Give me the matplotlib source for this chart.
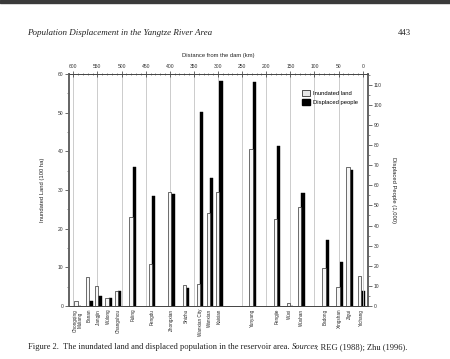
import numpy as np
import matplotlib
matplotlib.use('Agg')
import matplotlib.pyplot as plt
import matplotlib.transforms as mtransforms
from matplotlib.patches import Rectangle

# towns along the river, distance from the dam (km)
towns = ['Chongqing\nMuliang', 'Banan', 'Jiangjin', 'Wulong', 'Changshou', 'Fuling',
         'Fengdu', 'Zhongxian', 'Shizhu', 'Wanxian City', 'Wanxian', 'Kaixian',
         'Yunyang', 'Fengjie', 'Wuxi', 'Wushan', 'Badong', 'Xingshan', 'Zigui', 'Yichang']
dist = [591, 567, 548, 527, 507, 477, 437, 397, 366, 337, 317, 297,
        228, 178, 151, 127, 77, 48, 27, 3]
land = [1.2, 7.4, 5.2, 2.1, 3.9, 23.1, 10.8, 29.6, 5.4, 5.8, 24.0, 29.4,
        40.6, 22.4, 0.9, 25.5, 9.8, 4.9, 36.0, 7.8]            # 100 ha
people = [0, 2.5, 5.0, 3.8, 7.6, 69.0, 54.9, 55.7, 9.0, 96.4, 63.8, 111.6,
          111.3, 79.3, 0, 56.1, 32.8, 21.7, 67.4, 7.3]          # 1,000
km_ticks = np.arange(600, -1, -50)

W, H = 450, 359
fig = plt.figure(figsize=(W/100, H/100), dpi=100)
serif = ['Liberation Serif', 'DejaVu Serif']
narrow = ['Liberation Sans Narrow', 'Liberation Sans', 'DejaVu Sans']

# dark band at the top of the scan
fig.patches.append(Rectangle((0, 1 - 3/H), 1, 3/H, transform=fig.transFigure,
                             color='#3a3a3a', zorder=0))

fig.text(27/W, 1 - 33/H, 'Population Displacement in the Yangtze River Area',
         family=serif, style='italic', fontsize=6.45, va='center', color='#222')
fig.text(411/W, 1 - 33/H, '443', family=serif, fontsize=6.3, va='center',
         ha='right', color='#222')

ax = fig.add_axes([69/W, 1 - 306/H, (368-69)/W, (306-74)/H])
ax2 = ax.twinx()

bw = 6.8
ax.bar(np.array(dist) + bw/2, land, width=bw, color='#f6f6f6',
       edgecolor='#333', linewidth=0.5, zorder=3)
ax2.bar(np.array(dist) - bw/2, people, width=bw, color='black',
        edgecolor='black', linewidth=0.3, zorder=3)

ax.set_xlim(609, -11)
ax.set_ylim(0, 60)
ax2.set_ylim(0, 115.3)

for k in km_ticks:
    ax.axvline(k, color='#c4c4c4', linewidth=0.6, zorder=1)

ax.xaxis.tick_top()
ax.xaxis.set_label_position('top')
ax.set_xticks(km_ticks)
ax.set_xticklabels([str(k) for k in km_ticks])
ax.set_xticks(np.arange(600, -1, -10), minor=True)
ax.tick_params(axis='x', which='major', direction='inout', length=4, width=0.5,
               labelsize=3.6, pad=1.5, colors='#333')
ax.tick_params(axis='x', which='minor', direction='inout', length=2, width=0.4,
               colors='#333')
ax.set_xlabel('Distance from the dam (km)', family=narrow, fontsize=4.2,
              labelpad=5, color='#222')

ax.set_yticks(np.arange(0, 61, 10))
ax.set_yticks(np.arange(0, 61, 5), minor=True)
ax.tick_params(axis='y', which='major', length=3, width=0.5, labelsize=3.6,
               pad=1, colors='#333')
ax.tick_params(axis='y', which='minor', length=1.5, width=0.4, colors='#333')
ax.set_ylabel('Inundated Land (100 ha)', family=narrow, fontsize=4.2,
              labelpad=9, color='#222')

ax2.set_yticks(np.arange(0, 111, 10))
ax2.set_yticks(np.arange(0, 116, 5), minor=True)
ax2.tick_params(axis='y', which='major', length=3, width=0.5, labelsize=3.6,
                pad=1, colors='#333')
ax2.tick_params(axis='y', which='minor', length=1.5, width=0.4, colors='#333')
ax2.set_ylabel('Displaced People (1,000)', family=narrow, fontsize=4.2,
               rotation=270, labelpad=10, color='#222')

for a in (ax, ax2):
    a.spines['left'].set_linewidth(1.3)
    a.spines['left'].set_color('#666')
    a.spines['right'].set_linewidth(1.3)
    a.spines['right'].set_color('#666')
    a.spines['top'].set_linewidth(0.6)
    a.spines['top'].set_color('#444')
    a.spines['bottom'].set_linewidth(0.6)
    a.spines['bottom'].set_color('#444')
for lab in ax.get_yticklabels() + ax2.get_yticklabels() + ax.get_xticklabels():
    lab.set_family(narrow)

trans = mtransforms.blended_transform_factory(ax.transData, ax.transAxes)
for t, d in zip(towns, dist):
    ax.text(d, -0.012, t, transform=trans, rotation=90, ha='center', va='top',
            fontsize=3.3, family=narrow, color='#222', linespacing=0.9)

# legend
lg = ax.legend(handles=[Rectangle((0, 0), 1, 1, facecolor='#e6e6e6', edgecolor='#333', linewidth=0.6),
                        Rectangle((0, 0), 1, 1, facecolor='black', edgecolor='black')],
               labels=['Inundated land', 'Displaced people'], loc='upper left',
               bbox_to_anchor=(0.77, 0.945), frameon=False, fontsize=4.2,
               handlelength=1.3, handleheight=1.3, labelspacing=0.5,
               handletextpad=0.6, borderpad=0)
for txt in lg.get_texts():
    txt.set_family(narrow)
ax.set_zorder(ax2.get_zorder() + 1)
ax.patch.set_visible(False)

# caption with an italic word
parts = [('Figure 2.  The inundated land and displaced population in the reservoir area. ', 'normal', 0),
         ('Sources', 'italic', -1.5), (': REG (1988); Zhu (1996).', 'normal', 0)]
fig.canvas.draw()
r = fig.canvas.get_renderer()
x0 = 28/W
for s, st, adj in parts:
    tt = fig.text(x0, 1 - 347/H, s, family=serif, style=st, fontsize=6.1,
                  va='center', color='#222')
    bb = tt.get_window_extent(renderer=r)
    x0 += (bb.width + adj) / fig.bbox.width

fig.savefig('out.png', dpi=100)
